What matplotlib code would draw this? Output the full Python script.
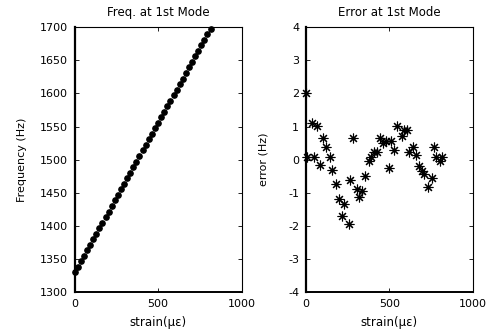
import matplotlib
matplotlib.use('Agg')
import matplotlib.pyplot as plt

plt.rcParams['font.family'] = ['DejaVu Sans']
plt.rcParams['axes.unicode_minus'] = False

# left panel: applied strain (micro-strain) and measured 1st-mode frequency (Hz)
strain_f = [0, 18, 37, 55, 74, 92, 111, 129, 148, 166, 185, 203, 222, 240, 259,
            277, 296, 314, 333, 351, 370, 388, 407, 425, 444, 462, 481, 499, 518,
            536, 555, 573, 592, 610, 629, 647, 666, 684, 703, 721, 740, 758, 777,
            795, 814]
freq = [1330.0, 1338.1, 1346.7, 1354.9, 1363.4, 1371.6, 1380.2, 1388.3, 1396.9,
        1405.0, 1413.6, 1421.8, 1430.3, 1438.5, 1447.1, 1455.2, 1463.8, 1471.9,
        1480.5, 1488.7, 1497.2, 1505.4, 1514.0, 1522.1, 1530.7, 1538.8, 1547.4,
        1555.5, 1564.1, 1572.3, 1580.9, 1589.0, 1597.6, 1605.7, 1614.3, 1622.4,
        1631.0, 1639.2, 1647.8, 1655.9, 1664.5, 1672.6, 1681.2, 1689.3, 1697.9]

# right panel: strain and fit error (Hz)
strain_e = [0, 8, 34, 48, 68, 84, 104, 120, 144, 156, 180, 196, 214, 230, 256,
            266, 280, 308, 320, 338, 354, 378, 390, 408, 424, 444, 460, 480, 496,
            508, 530, 548, 574, 588, 608, 620, 640, 658, 680, 694, 710, 732, 754,
            766, 778, 804, 814]
error = [2.0, 0.07, 1.12, 0.07, 1.01, -0.15, 0.64, 0.37, 0.07, -0.30, -0.73,
         -1.19, -1.71, -1.33, -1.93, -0.60, 0.67, -0.89, -1.12, -0.95, -0.48,
         -0.03, 0.08, 0.22, 0.22, 0.64, 0.51, 0.57, -0.26, 0.57, 0.29, 1.01,
         0.71, 0.89, 0.91, 0.24, 0.39, 0.14, -0.20, -0.34, -0.42, -0.82, -0.55,
         0.39, 0.08, -0.05, 0.08]

fig = plt.figure(figsize=(4.92, 3.35), dpi=100)
ax1 = fig.add_axes([0.152, 0.1275, 0.339, 0.7915])
ax2 = fig.add_axes([0.622, 0.1275, 0.339, 0.7915])

ax1.plot(strain_f, freq, 'o', color='black', markersize=3.8, clip_on=False)
ax1.set_xlim(0, 1000)
ax1.set_ylim(1300, 1700)
ax1.set_yticks(range(1300, 1701, 50))
ax1.set_title('Freq. at 1st Mode', fontsize=8.5, pad=8)
ax1.set_ylabel('Frequency (Hz)', fontsize=8, labelpad=9)

ax2.plot(strain_e, error, linestyle='none', marker=(8, 2, 0), color='black',
         markersize=7, markeredgewidth=0.8, clip_on=False)
ax2.set_xlim(0, 1000)
ax2.set_ylim(-4, 4)
ax2.set_yticks(range(-4, 5))
ax2.set_title('Error at 1st Mode', fontsize=8.5, pad=8)
ax2.set_ylabel('error (Hz)', fontsize=8, labelpad=14)

for ax in (ax1, ax2):
    ax.set_xticks([0, 500, 1000])
    ax.set_xlabel('strain(\u03bc\u03b5)', fontsize=8.5, labelpad=5)
    ax.tick_params(direction='in', top=True, right=True, length=3,
                   width=0.6, labelsize=8, pad=5)
    ax.spines['left'].set_linewidth(1.6)
    ax.spines['bottom'].set_linewidth(1.4)
    ax.spines['top'].set_linewidth(0.8)
    ax.spines['right'].set_linewidth(0.8)

fig.savefig('out.png', dpi=100)
